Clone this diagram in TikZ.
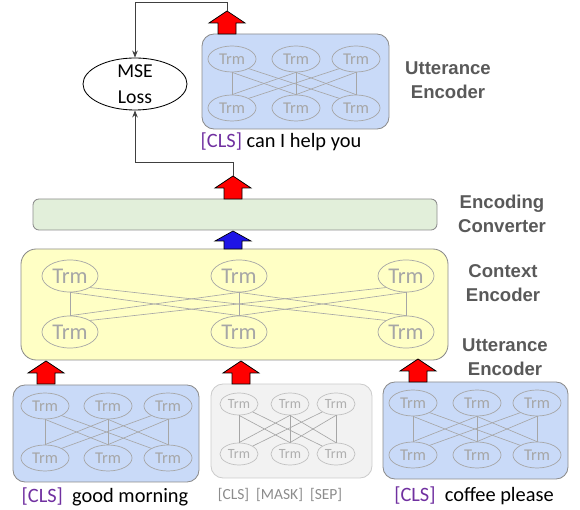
\documentclass[tikz,border=0pt]{standalone}
\usepackage{fontspec}
\setmainfont{Carlito}
\newfontfamily\labelfont{Liberation Sans}
\usepackage{xcolor}
\usepackage{tikz}
\usetikzlibrary{arrows.meta,fit,shapes.geometric}

\definecolor{uttblue}{RGB}{201,218,248}
\definecolor{ctxyellow}{RGB}{255,255,197}
\definecolor{convgreen}{RGB}{226,239,218}
\definecolor{maskgray}{RGB}{242,242,242}
\definecolor{clspurple}{RGB}{112,48,160}
\definecolor{lblgray}{RGB}{89,89,89}
\definecolor{trmgray}{RGB}{166,166,166}
\definecolor{arrblue}{RGB}{30,20,230}

\tikzset{
  box/.style={draw=black!45, line width=0.6pt, rounded corners=0.3cm, inner sep=0pt},
  trm/.style={ellipse, draw=trmgray, text=trmgray, inner sep=0pt, line width=0.5pt},
  trmbig/.style={trm, minimum width=1.4cm, minimum height=0.8cm, font=\fontsize{16}{16}\selectfont},
  trmmid/.style={trm, minimum width=1.2cm, minimum height=0.65cm, font=\fontsize{11.7}{12}\selectfont},
  trmsmall/.style={trm, draw=trmgray!70, text=trmgray!90, minimum width=0.95cm, minimum height=0.55cm, font=\fontsize{10}{10}\selectfont},
  mesh/.style={draw=trmgray, line width=0.45pt},
  link/.style={draw=black!75, line width=0.6pt, -{Stealth[length=5pt,width=4pt]}},
  sent/.style={font=\fontsize{14.5}{17}\selectfont},
  lbl/.style={align=center, text=lblgray, font=\labelfont\bfseries\fontsize{13.2}{17}\selectfont},
  pics/blockup/.style n args={3}{code={
    \draw[fill=#1, line width=0.5pt] (-9,0) -- (-9,-#2) -- (-18,-#2) -- (0,-#3)
      -- (18,-#2) -- (9,-#2) -- (9,0) -- cycle;
    \coordinate (-tip) at (0,-#3);
  }}
}

% two rows of Trm cells, every top one joined to every bottom one
\newcommand{\trmgrid}[5]{%
  \foreach \x [count=\i] in {#2} {
    \node[#5] (#1t\i) at (\x,#3) {Trm};
    \node[#5] (#1b\i) at (\x,#4) {Trm};
  }
  \foreach \i/\j in {1/1,2/2,3/3,1/2,2/1,2/3,3/2}
    \draw[mesh] (#1t\i.south) -- (#1b\j.north);
  \draw[mesh] (#1t1.-30) -- (#1b3.150);
  \draw[mesh] (#1t3.210) -- (#1b1.30);
}

\begin{document}
\begin{tikzpicture}[x=0.025cm, y=-0.025cm]
	\useasboundingbox (0,0) rectangle (580,510);

	% loss
	\node[ellipse, draw, line width=0.6pt, minimum width=2.6cm, minimum height=1.3cm] (mse) at (135,84) {};
	\node[align=center, font=\fontsize{14}{18.4}\selectfont] at (mse) {MSE\\Loss};

	% response encoder
	\node[box, fill=uttblue, fit={(202,34) (389,129)}] (uTop) {};
	\trmgrid{u}{232,296,356}{59}{108}{trmmid}
	\node[sent] (sTop) at (281,142) {\textcolor{clspurple}{[CLS]} can I help you};
	\node[lbl] at (448,80) {Utterance\\Encoder};

	% converter
	\node[box, rounded corners=0.15cm, fill=convgreen, fit={(33,199) (437,230)}] (conv) {};
	\node[lbl] at (502,214) {Encoding\\Converter};

	% context encoder
	\node[box, rounded corners=0.38cm, fill=ctxyellow, fit={(21,249) (448,360)}] (ctx) {};
	\trmgrid{c}{70,239,406}{276}{332}{trmbig}
	\node[lbl] at (503,283) {Context\\Encoder};
	\node[lbl] at (505,357) {Utterance\\Encoder};

	% utterance encoders
	\node[box, fill=uttblue, fit={(13,385) (199,482)}] (uA) {};
	\trmgrid{a}{45,108,168}{406}{458}{trmmid}
	\node[box, draw=black!20, fill=maskgray, fit={(211,384) (372,478)}] (uM) {};
	\trmgrid{m}{239,290,336}{404}{454}{trmsmall}
	\node[box, fill=uttblue, fit={(383,382) (568,479)}] (uB) {};
	\trmgrid{b}{413,477,537}{403}{455}{trmmid}

	\node[sent] (sA) at (105,497) {\textcolor{clspurple}{[CLS]}\ \ good morning};
	\node[text=black!45, font=\fontsize{11}{13}\selectfont] (sM) at (280,495) {[CLS]\ \ [MASK]\ \ [SEP]};
	\node[sent] (sB) at (474,496) {\textcolor{clspurple}{[CLS]}\ \ coffee please};

	% block arrows
	\pic at (46,384) {blockup={red}{11}{23}};
	\pic at (241,384) {blockup={red}{11}{23}};
	\pic at (418,382) {blockup={red}{11}{23}};
	\pic at (233,249) {blockup={arrblue}{8}{18}};
	\pic (upC) at (233,199) {blockup={red}{11}{23}};
	\pic (upT) at (227,34) {blockup={red}{11}{23}};

	\draw[link] (upT-tip) -- ++(0,-9) -| (mse.north);
	\draw[link] (upC-tip) -- ++(0,-14) -| (mse.south);
\end{tikzpicture}
\end{document}
